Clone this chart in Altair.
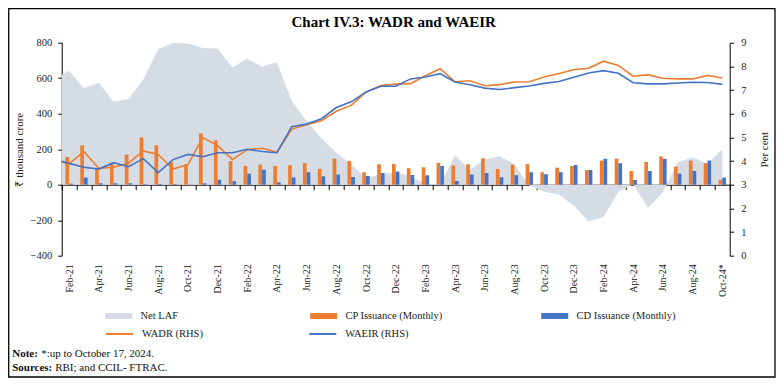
import altair as alt
import pandas as pd

months = ["Feb-21", "Mar-21", "Apr-21", "May-21", "Jun-21", "Jul-21", "Aug-21", "Sep-21", "Oct-21", "Nov-21", "Dec-21",
          "Jan-22", "Feb-22", "Mar-22", "Apr-22", "May-22", "Jun-22", "Jul-22", "Aug-22", "Sep-22", "Oct-22", "Nov-22", "Dec-22",
          "Jan-23", "Feb-23", "Mar-23", "Apr-23", "May-23", "Jun-23", "Jul-23", "Aug-23", "Sep-23", "Oct-23", "Nov-23", "Dec-23",
          "Jan-24", "Feb-24", "Mar-24", "Apr-24", "May-24", "Jun-24", "Jul-24", "Aug-24", "Sep-24", "Oct-24*"]

# CP issuance (monthly), ₹ thousand crore
cp = [156, 222, 90, 124, 170, 266, 222, 126, 114, 288, 250, 133, 106, 113, 106, 110, 121, 89, 147, 134, 70, 115, 116,
      93, 98, 123, 108, 115, 149, 89, 113, 117, 70, 96, 106, 83, 136, 147, 77, 128, 159, 102, 136, 121, 28]
# CD issuance (monthly), ₹ thousand crore
cd = [6, 40, 8, 8, 8, 3, 4, 4, 1, 8, 28, 20, 62, 84, 13, 41, 70, 47, 57, 43, 49, 66, 74,
      55, 53, 106, 21, 57, 66, 42, 53, 70, 59, 70, 111, 83, 146, 121, 26, 77, 146, 62, 77, 136, 40]
# Net LAF, ₹ thousand crore
net_laf = [642, 543, 574, 467, 484, 594, 764, 798, 795, 770, 768, 662, 710, 665, 690, 470, 360, 260, 180, 115, 38, 59, 70,
           47, 5, 3, 165, 85, 140, 160, 115, -5, -40, -55, -118, -208, -182, -40, 2, -130, -42, 125, 155, 120, 200]
# WADR and WAEIR, per cent (RHS)
wadr = [3.88, 4.40, 3.69, 3.74, 3.91, 4.43, 4.28, 3.66, 3.85, 4.99, 4.65, 4.07, 4.48, 4.54, 4.37, 5.35, 5.53, 5.70, 6.10,
        6.35, 6.91, 7.19, 7.25, 7.27, 7.60, 7.90, 7.35, 7.39, 7.18, 7.23, 7.34, 7.35, 7.55, 7.70, 7.86, 7.92, 8.22, 8.04,
        7.59, 7.64, 7.50, 7.47, 7.47, 7.62, 7.51]
waeir = [3.90, 3.74, 3.66, 3.93, 3.76, 4.10, 3.51, 4.06, 4.28, 4.18, 4.35, 4.35, 4.50, 4.40, 4.35, 5.45, 5.56, 5.79, 6.26,
         6.50, 6.92, 7.16, 7.16, 7.47, 7.55, 7.69, 7.34, 7.22, 7.08, 7.02, 7.10, 7.17, 7.28, 7.36, 7.54, 7.72, 7.82, 7.71,
         7.31, 7.26, 7.26, 7.30, 7.33, 7.32, 7.24]
# values where the lines/area meet the left axis
laf_start, wadr_start, waeir_start = 620, 3.96, 3.99

GREY, ORANGE, BLUE = "#D6DCE4", "#ED7D31", "#4472C4"

title_text = "Chart IV.3: WADR and WAEIR"
note_label, note_text = "Note:", "*:up to October 17, 2024."
src_label, src_text = "Sources:", "RBI; and CCIL- FTRAC."

FONT = "Liberation Serif"
W, H = 668, 213

bars_df = pd.DataFrame({"month": months, "cp": cp, "cd": cd})
line_df = pd.DataFrame({
    "pos": [-0.5] + list(range(len(months))),
    "laf": [laf_start] + net_laf,
    "wadr": [wadr_start] + wadr,
    "waeir": [waeir_start] + waeir,
})

BOX = "M-2.7,-0.6H2.7V0.6H-2.7Z"
LINE = "M-2.7,0H2.7"
common_leg = dict(orient="none", title=None, symbolSize=100, labelOffset=16.5, labelFont=FONT, labelFontSize=10.5,
                  labelColor="#222", padding=0, direction="horizontal", symbolOpacity=1)

leg_fill = alt.Legend(legendX=51.8, legendY=268, columns=2, columnPadding=130.9, gridAlign="each",
                      symbolType=BOX, symbolStrokeWidth=0, **common_leg)
leg_color = alt.Legend(legendX=487.8, legendY=268, columns=1, symbolType=BOX, symbolStrokeWidth=0, **common_leg)
leg_stroke = alt.Legend(legendX=51.8, legendY=285, columns=2, columnPadding=101.3, gridAlign="each",
                        symbolType=LINE, symbolStrokeWidth=2, **common_leg)

fill_enc = alt.Fill("series:N", scale=alt.Scale(domain=["Net LAF", "CP Issuance (Monthly)"], range=[GREY, ORANGE]),
                    legend=leg_fill)
color_enc = alt.Color("series:N", scale=alt.Scale(domain=["CD Issuance (Monthly)"], range=[BLUE]), legend=leg_color)
stroke_enc = alt.Stroke("series:N", scale=alt.Scale(domain=["WADR (RHS)", "WAEIR (RHS)"], range=[ORANGE, BLUE]),
                        legend=leg_stroke)

left_scale = alt.Scale(domain=[-400, 800], nice=False, zero=False)
right_scale = alt.Scale(domain=[0, 9], nice=False, zero=False)
xq = alt.X("pos:Q", scale=alt.Scale(domain=[-0.5, 44.5], nice=False, zero=False), axis=None)

label_expr = "test(regexp('^(Feb|Apr|Jun|Aug|Oct|Dec)'), datum.label) ? datum.label : ''"
x_axis = alt.Axis(title=None, orient="bottom", offset=-71, tickBand="extent", tickSize=5, tickColor="black",
                  domainColor="black", labelAngle=270, labelAlign="right", labelBaseline="middle",
                  labelPadding=74, labelFont=FONT, labelFontSize=10, labelColor="#222", labelOverlap=False,
                  labelExpr=label_expr)
xb_axis = alt.X("month:N", sort=months, scale=alt.Scale(paddingInner=0, paddingOuter=0), axis=x_axis)
xb = alt.X("month:N", sort=months, scale=alt.Scale(paddingInner=0, paddingOuter=0), axis=None)

left_axis = alt.Axis(orient="left", values=[-400, -200, 0, 200, 400, 600, 800], title="₹ thousand crore",
                     tickSize=4, labelPadding=6, grid=False, domainColor="black", tickColor="black",
                     labelFont=FONT, labelFontSize=10.5, labelColor="#222",
                     titleX=-42, titleY=H / 2, titleAngle=270, titleAlign="center", titleBaseline="middle",
                     titleFont=FONT, titleFontSize=11, titleFontWeight="normal", titleColor="#222")
right_axis = alt.Axis(orient="right", values=list(range(10)), title="Per cent",
                      tickSize=4, labelPadding=7, grid=False, domainColor="black", tickColor="black",
                      labelFont=FONT, labelFontSize=10.5, labelColor="#222",
                      titleX=35, titleY=H / 2, titleAngle=270, titleAlign="center", titleBaseline="middle",
                      titleFont=FONT, titleFontSize=11, titleFontWeight="normal", titleColor="#222")

area = alt.Chart(line_df).transform_calculate(series="'Net LAF'").mark_area(opacity=1).encode(
    x=xq, y=alt.Y("laf:Q", scale=left_scale, axis=left_axis), fill=fill_enc)

cp_bars = alt.Chart(bars_df).transform_calculate(series="'CP Issuance (Monthly)'").mark_bar(
    width=3.7, xOffset=-1.85).encode(
    x=xb_axis, y=alt.Y("cp:Q", scale=left_scale, axis=None), fill=alt.Fill("series:N"))

cd_bars = alt.Chart(bars_df).transform_calculate(series="'CD Issuance (Monthly)'").mark_bar(
    width=3.7, xOffset=1.85).encode(
    x=xb, y=alt.Y("cd:Q", scale=left_scale, axis=None), color=color_enc)

wadr_line = alt.Chart(line_df).transform_calculate(series="'WADR (RHS)'").mark_line(strokeWidth=1.6).encode(
    x=xq, y=alt.Y("wadr:Q", scale=right_scale, axis=right_axis), stroke=stroke_enc)

waeir_line = alt.Chart(line_df).transform_calculate(series="'WAEIR (RHS)'").mark_line(strokeWidth=1.6).encode(
    x=xq, y=alt.Y("waeir:Q", scale=right_scale, axis=None), stroke=alt.Stroke("series:N"))

one = pd.DataFrame({"a": [0]})
frame = alt.Chart(one).mark_rect(filled=False, stroke="black", strokeWidth=1.3, clip=False).encode(
    x=alt.value(-53), x2=alt.value(W + 45.3), y=alt.value(-34), y2=alt.value(H + 121.3))


def text_mark(txt, x, y, bold, size=11, align="left", baseline="middle", color="#111"):
    return alt.Chart(pd.DataFrame({"t": [txt]})).mark_text(
        align=align, baseline=baseline, font=FONT, fontSize=size, color=color,
        fontWeight="bold" if bold else "normal", clip=False).encode(
        text="t:N", x=alt.value(x), y=alt.value(y))


title = text_mark(title_text, W / 2 - 2, -16, True, size=15, align="center", baseline="alphabetic", color="black")
notes = [text_mark(note_label, -49.5, 311.6, True), text_mark(note_text, -20.5, 311.6, False),
         text_mark(src_label, -49.5, 325.6, True), text_mark(src_text, -6.5, 325.6, False)]

chart = alt.layer(area, cp_bars, cd_bars, wadr_line, waeir_line, frame, title, *notes).resolve_scale(
    x="independent", y="independent").properties(
    width=W, height=H,
    padding={"left": 53.7, "top": 34.7, "right": 46, "bottom": 122},
    autosize=alt.AutoSizeParams(type="none"),
).configure_view(stroke=None)

chart.save("out.html", embed_options={"renderer": "svg", "actions": False})
